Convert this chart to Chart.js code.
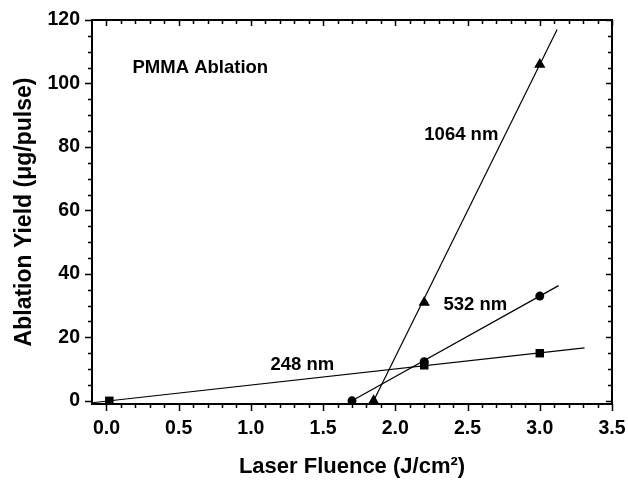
<!DOCTYPE html>
<html><head><meta charset="utf-8">
<script src="https://cdn.jsdelivr.net/npm/chart.js@4"></script>
<style>html,body{margin:0;padding:0;background:#fff}</style>
</head><body>
<canvas id="c" width="628" height="480"></canvas>
<script>
// Measured points
const x248 = [0.02, 2.2, 3.0];
const y248 = [0, 11.2, 15];
const x532 = [1.7, 2.2, 3.0];
const y532 = [0, 12.3, 33];
const x1064 = [1.85, 2.2, 3.0];
const y1064 = [0, 31, 106];
// Fit line end points
const fitX248 = [-0.1, 3.31];
const fitY248 = [-0.6, 16.7];
const fitX532 = [1.7, 3.13];
const fitY532 = [0, 36.3];
const fitX1064 = [1.85, 3.12];
const fitY1064 = [0, 117];
// Labels
const seriesNames = ['248 nm', '532 nm', '1064 nm'];
const plotTitle = 'PMMA Ablation';
const xTitle = 'Laser Fluence (J/cm\u00B2)';
const yTitle = 'Ablation Yield (\u03BCg/pulse)';

const pts = (xs, ys) => xs.map((x, i) => ({x: x, y: ys[i]}));
const FONT = "'Liberation Sans', Arial, sans-serif";

const marker = (name, xs, ys, style, r) => ({
  label: name, data: pts(xs, ys), showLine: false,
  pointStyle: style, pointRadius: r, pointHoverRadius: r,
  backgroundColor: '#000', borderColor: '#000', borderWidth: 0
});
const fit = (name, xs, ys) => ({
  label: name + ' fit', data: pts(xs, ys), showLine: true,
  pointRadius: 0, borderColor: '#000', borderWidth: 1.2, fill: false
});

const frame = {
  id: 'frame',
  afterDatasetsDraw(chart) {
    const {ctx, chartArea: a, scales: {x, y}} = chart;
    ctx.save();
    ctx.strokeStyle = '#000';
    ctx.lineWidth = 2;
    ctx.strokeRect(a.left, a.top, a.right - a.left, a.bottom - a.top);
    ctx.lineWidth = 1.5;
    ctx.beginPath();
    for (let i = 0; i <= 35; i++) {
      const v = i / 10;
      const px = Math.round(x.getPixelForValue(v)) + 0.5;
      const major = i % 5 === 0;
      const L = major ? 7 : 4;
      ctx.moveTo(px, a.bottom); ctx.lineTo(px, a.bottom + L);
      ctx.moveTo(px, a.top); ctx.lineTo(px, a.top + (major ? 6 : 4));
    }
    for (let v = 0; v <= 120; v += 5) {
      const py = Math.round(y.getPixelForValue(v)) + 0.5;
      const major = v % 20 === 0;
      const L = major ? 7 : 4;
      ctx.moveTo(a.left, py); ctx.lineTo(a.left - L, py);
      ctx.moveTo(a.right, py); ctx.lineTo(a.right - (major ? 6 : 4), py);
    }
    ctx.stroke();
    // annotations
    ctx.fillStyle = '#000';
    ctx.font = 'bold 18.5px ' + FONT;
    ctx.textAlign = 'center';
    ctx.textBaseline = 'middle';
    const put = (t, vx, vy) => ctx.fillText(t, x.getPixelForValue(vx), y.getPixelForValue(vy));
    put(plotTitle, 0.65, 104.9);
    put(seriesNames[2], 2.457, 83.8);
    put(seriesNames[1], 2.554, 30.2);
    put(seriesNames[0], 1.356, 11.3);
    ctx.restore();
  }
};

new Chart(document.getElementById('c'), {
  type: 'scatter',
  data: {
    datasets: [
      marker(seriesNames[0], x248, y248, 'rect', 6),
      marker(seriesNames[1], x532, y532, 'circle', 4.5),
      marker(seriesNames[2], x1064, y1064, 'triangle', 6.5),
      fit(seriesNames[0], fitX248, fitY248),
      fit(seriesNames[1], fitX532, fitY532),
      fit(seriesNames[2], fitX1064, fitY1064)
    ]
  },
  options: {
    responsive: false,
    animation: false,
    layout: {padding: {left: 0, top: 20, right: 16, bottom: 0}},
    plugins: {legend: {display: false}, tooltip: {enabled: false}},
    scales: {
      x: {
        type: 'linear', min: -0.1, max: 3.5,
        grid: {display: false, drawTicks: false},
        border: {display: false},
        ticks: {stepSize: 0.5, includeBounds: false, padding: 13, color: '#000',
          font: {family: FONT, size: 19.5, weight: 'bold'},
          callback: v => Number(v).toFixed(1)},
        title: {display: true, text: xTitle, color: '#000', padding: {top: 0, bottom: 0},
          font: {family: FONT, size: 22, weight: 'bold'}},
        afterFit: s => { s.height = 76; s.paddingLeft = 0; s.paddingRight = 0; }
      },
      y: {
        type: 'linear', min: -1, max: 120,
        grid: {display: false, drawTicks: false},
        border: {display: false},
        ticks: {stepSize: 20, includeBounds: false, padding: 12, color: '#000',
          font: {family: FONT, size: 19.5, weight: 'bold'},
          callback: v => String(Math.round(v))},
        title: {display: true, text: yTitle, color: '#000', padding: {top: 11, bottom: 0},
          font: {family: FONT, size: 23, weight: 'bold'}},
        afterFit: s => { s.width = 92; s.paddingTop = 0; s.paddingBottom = 0; }
      }
    }
  },
  plugins: [frame]
});
</script>
</body></html>
